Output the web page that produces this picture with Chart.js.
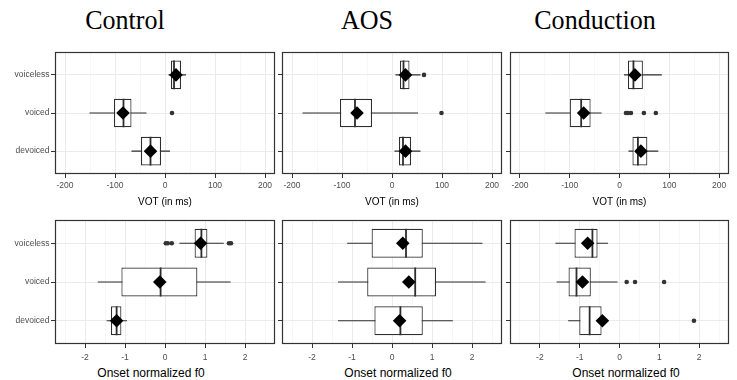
<!DOCTYPE html>
<html>
<head>
<meta charset="utf-8">
<script src="https://cdn.jsdelivr.net/npm/chart.js@4.4.1/dist/chart.umd.min.js"></script>
<style>
  html, body { margin: 0; padding: 0; background: #fff; }
  body { width: 737px; height: 380px; position: relative; overflow: hidden; }
  .panel { position: absolute; }
  .colTitle {
    position: absolute; top: 6px;
    font-family: "Liberation Serif", "Times New Roman", serif;
    font-size: 28px; line-height: 28px; color: #000; white-space: nowrap;
    transform: translateX(-50%) scaleX(0.93);
  }
  .xTitle {
    position: absolute; top: 366px;
    font-family: "Liberation Sans", Arial, sans-serif;
    font-size: 12px; line-height: 14px; color: #000; white-space: nowrap;
    transform: translateX(-50%);
  }
</style>
</head>
<body>
<div class="colTitle" style="left:125px">Control</div>
<div class="colTitle" style="left:367px">AOS</div>
<div class="colTitle" style="left:595px">Conduction</div>
<div class="xTitle" style="left:151px">Onset normalized f0</div>
<div class="xTitle" style="left:398px">Onset normalized f0</div>
<div class="xTitle" style="left:626px">Onset normalized f0</div>
<script>
const categories = ['voiceless', 'voiced', 'devoiced'];
const groups = ['Control', 'AOS', 'Conduction'];
const votTicks = [-200, -100, 0, 100, 200];
const f0Ticks = [-2, -1, 0, 1, 2];

// VOT (ms): one row per group (Control, AOS, Conduction), columns follow categories
const votLow  = [[7, -151, -67], [7, -179, 5], [9, -149, 18]];
const votQ1   = [[12, -102, -48], [16, -104, 14], [17, -100, 26]];
const votMed  = [[18, -83, -29], [23, -74, 22], [28, -77, 37]];
const votQ3   = [[32, -67, -8], [35, -40, 38], [47, -58, 56]];
const votHigh = [[42, -37, 10], [57, 52, 57], [85, -36, 78]];
const votMean = [[22, -84, -29], [27, -70, 27], [31, -72, 43]];
const votOut  = [[[], [14], []], [[64], [99], []], [[], [13, 17, 23, 49, 73], []]];

// onset normalized f0
const f0Low  = [[0.36, -1.68, -1.46], [-1.12, -1.35, -1.35], [-1.61, -1.58, -1.29]];
const f0Q1   = [[0.74, -1.09, -1.35], [-0.51, -0.62, -0.44], [-1.13, -1.28, -1.01]];
const f0Med  = [[0.91, -0.11, -1.21], [0.35, 0.58, 0.21], [-0.68, -1.08, -0.75]];
const f0Q3   = [[1.06, 0.81, -1.09], [0.77, 1.10, 0.77], [-0.55, -0.72, -0.45]];
const f0High = [[1.47, 1.64, -0.95], [2.26, 2.34, 1.52], [-0.29, -0.05, -0.36]];
const f0Mean = [[0.89, -0.13, -1.21], [0.27, 0.42, 0.19], [-0.80, -0.93, -0.43]];
const f0Out  = [[[0.02, 0.07, 0.17, 1.6, 1.65], [], []], [[], [], []], [[], [0.18, 0.39, 1.12], [1.87]]];

Chart.defaults.font.family = "'Liberation Sans', Arial, sans-serif";
Chart.defaults.animation = false;

// panel geometry (chart area of each facet, in page px)
const colLeft = [55, 282, 510];
const colRight = [275, 502, 729];
const rowsCfg = [
  { top: 52, bottom: 174, lim: 220, ticks: votTicks, title: 'VOT (in ms)', titleSize: 10, xH: 34, tickPad: 3,
    low: votLow, q1: votQ1, med: votMed, q3: votQ3, high: votHigh, mean: votMean, out: votOut },
  { top: 220, bottom: 344, lim: 2.75, ticks: f0Ticks, title: null, titleSize: 12, xH: 36, tickPad: 5,
    low: f0Low, q1: f0Q1, med: f0Med, q3: f0Q3, high: f0High, mean: f0Mean, out: f0Out }
];
const boxFrac = 0.75;
const lineCol = '#2e2e2e';

// major ticks plus the minor grid lines halfway between them
function gridTicks(ticks, lim) {
  const half = (ticks[1] - ticks[0]) / 2;
  const res = [];
  if (ticks[0] - half > -lim) res.push({ value: ticks[0] - half, minor: true });
  ticks.forEach((t, i) => {
    res.push({ value: t, minor: false });
    if (i < ticks.length - 1 || t + half < lim) res.push({ value: t + half, minor: true });
  });
  return res;
}

const panelBorder = {
  id: 'panelBorder',
  afterDraw(chart) {
    const { ctx, chartArea: a } = chart;
    ctx.save();
    ctx.strokeStyle = '#333';
    ctx.lineWidth = 1.2;
    ctx.strokeRect(a.left + 0.5, a.top + 0.5, a.right - a.left - 1, a.bottom - a.top - 1);
    ctx.restore();
  }
};

function makePanel(r, g) {
  const S = rowsCfg[r];
  const L = colLeft[g], R = colRight[g], T = S.top, B = S.bottom;
  const yW = g === 0 ? 55 : 8;
  const padT = 3, padR = 3;

  const wrap = document.createElement('div');
  wrap.className = 'panel';
  wrap.style.left = (L - yW) + 'px';
  wrap.style.top = (T - padT) + 'px';
  wrap.style.width = (R - L + yW + padR) + 'px';
  wrap.style.height = (B - T + padT + S.xH) + 'px';
  const cv = document.createElement('canvas');
  wrap.appendChild(cv);
  document.body.appendChild(wrap);

  const yPos = categories.map((c, i) => i + 1);
  const whiskers = [], medians = [], outliers = [], means = [];
  yPos.forEach((y, i) => {
    whiskers.push({ x: S.low[g][i], y }, { x: S.high[g][i], y }, { x: null, y: null });
    medians.push({ x: S.med[g][i], y: y - boxFrac / 2 }, { x: S.med[g][i], y: y + boxFrac / 2 }, { x: null, y: null });
    S.out[g][i].forEach(v => outliers.push({ x: v, y }));
    means.push({ x: S.mean[g][i], y });
  });
  const xGrid = gridTicks(S.ticks, S.lim);
  const tickFont = { size: 8.5 };

  new Chart(cv, {
    type: 'bar',
    data: {
      datasets: [
        { type: 'line', data: whiskers, borderColor: lineCol, borderWidth: 1.2, pointRadius: 0, spanGaps: false, order: 4 },
        { type: 'bar', data: yPos.map((y, i) => ({ x: [S.q1[g][i], S.q3[g][i]], y })),
          backgroundColor: '#fff', borderColor: lineCol, borderWidth: 1.2, borderSkipped: false,
          barPercentage: boxFrac, categoryPercentage: 1, order: 3 },
        { type: 'line', data: medians, borderColor: lineCol, borderWidth: 1.8, pointRadius: 0, spanGaps: false, order: 2 },
        { type: 'scatter', data: outliers, pointRadius: 2.3, backgroundColor: '#333', borderColor: '#333', pointBorderWidth: 0, order: 1 },
        { type: 'scatter', data: means, pointStyle: 'rectRot', pointRadius: 6.8, backgroundColor: '#000', borderColor: '#000', pointBorderWidth: 0, order: 0 }
      ]
    },
    options: {
      indexAxis: 'y',
      responsive: true,
      maintainAspectRatio: false,
      events: [],
      layout: { padding: { top: padT, right: padR, left: 0, bottom: 0 }, autoPadding: false },
      plugins: { legend: { display: false }, tooltip: { enabled: false } },
      scales: {
        x: {
          type: 'linear', min: -S.lim, max: S.lim,
          afterBuildTicks: s => { s.ticks = xGrid.map(t => ({ value: t.value, minor: t.minor })); },
          afterFit: s => { s.height = S.xH; s.paddingLeft = 0; s.paddingRight = 0; },
          ticks: {
            autoSkip: false, maxRotation: 0, padding: S.tickPad, color: '#4d4d4d', font: tickFont,
            callback: (v, i, ts) => ts[i].minor ? '' : String(v)
          },
          grid: {
            color: c => (c.tick && c.tick.minor) ? '#f3f3f3' : '#ebebeb',
            lineWidth: c => (c.tick && c.tick.minor) ? 0.7 : 1,
            tickColor: c => (c.tick && c.tick.minor) ? 'rgba(0,0,0,0)' : '#333',
            tickLength: 4
          },
          border: { display: false },
          title: { display: !!S.title, text: S.title || '', color: '#000', padding: 0, font: { size: S.titleSize } }
        },
        y: {
          type: 'linear', reverse: true, min: 0.4, max: 3.6, offset: false,
          afterBuildTicks: s => { s.ticks = yPos.map(v => ({ value: v })); },
          afterFit: s => { s.width = yW; s.paddingTop = 0; s.paddingBottom = 0; },
          ticks: {
            autoSkip: false, padding: 1.5, color: '#4d4d4d', font: tickFont,
            callback: v => g === 0 ? categories[v - 1] : ''
          },
          grid: { color: '#ebebeb', lineWidth: 1, tickColor: '#333', tickLength: 4, offset: false },
          border: { display: false }
        }
      }
    },
    plugins: [panelBorder]
  });
}

for (let r = 0; r < rowsCfg.length; r++) {
  for (let g = 0; g < groups.length; g++) makePanel(r, g);
}
</script>
</body>
</html>
